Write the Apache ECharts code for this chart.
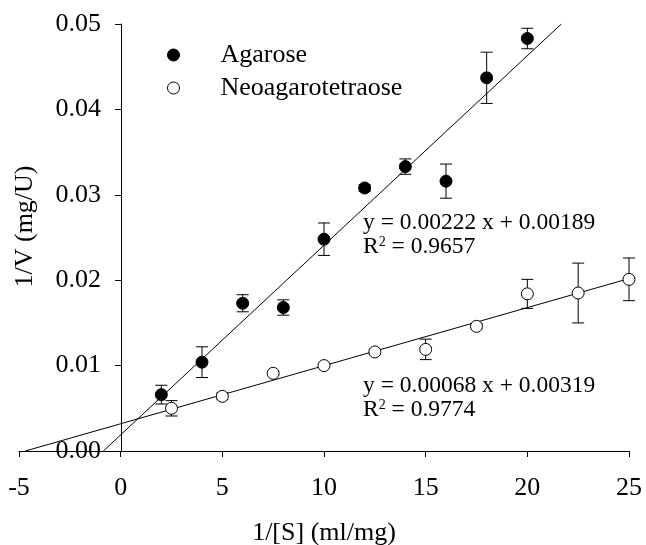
<!DOCTYPE html>
<html>
<head>
<meta charset="utf-8">
<script src="https://cdn.jsdelivr.net/npm/echarts@6/dist/echarts.min.js"></script>
<style>
  html, body { margin: 0; padding: 0; background: #fff; }
  #chart { width: 646px; height: 545px; }
</style>
</head>
<body>
<div id="chart"></div>
<script>
// Agarose (filled circles)
var agaroseX = [2, 4, 6, 8, 10, 12, 14, 16, 18, 20];
var agaroseY = [0.0066, 0.0104, 0.0173, 0.0168, 0.0248, 0.0308, 0.0333, 0.0316, 0.0437, 0.0483];
var agaroseErr = [0.0011, 0.0018, 0.0010, 0.0009, 0.0019, 0.0004, 0.0009, 0.0020, 0.0030, 0.0012];

// Neoagarotetraose (open circles)
var neoX = [2.5, 5, 7.5, 10, 12.5, 15, 17.5, 20, 22.5, 25];
var neoY = [0.0050, 0.0064, 0.0091, 0.0100, 0.0116, 0.0119, 0.0146, 0.0184, 0.0185, 0.0201];
var neoErr = [0.0009, 0.0004, 0.0002, 0.0002, 0.0003, 0.0012, 0.0003, 0.0017, 0.0035, 0.0025];

// linear fits
var fitSlope = [0.00222, 0.00068];
var fitIntercept = [0.00189, 0.00319];
var fitR2 = ['0.9657', '0.9774'];

var xTicks = [-5, 0, 5, 10, 15, 20, 25];
var yTicks = [0.00, 0.01, 0.02, 0.03, 0.04, 0.05];

var font = "'Liberation Serif', 'Times New Roman', serif";

function pairs(xs, ys) {
    return xs.map(function (x, i) { return [x, ys[i]]; });
}
function errData(xs, ys, es) {
    return xs.map(function (x, i) { return [x, ys[i] - es[i], ys[i] + es[i]]; });
}
function errBars(params, api) {
    var x = api.value(0);
    var lo = api.coord([x, api.value(1)]);
    var hi = api.coord([x, api.value(2)]);
    var w = 6;
    var st = { stroke: '#000', lineWidth: 1 };
    return {
        type: 'group',
        children: [
            { type: 'line', shape: { x1: lo[0], y1: lo[1], x2: hi[0], y2: hi[1] }, style: st },
            { type: 'line', shape: { x1: lo[0] - w, y1: lo[1], x2: lo[0] + w, y2: lo[1] }, style: st },
            { type: 'line', shape: { x1: hi[0] - w, y1: hi[1], x2: hi[0] + w, y2: hi[1] }, style: st }
        ]
    };
}
// fit line endpoints from the equation: from the x-intercept up to the plot edge
var yMax = yTicks[yTicks.length - 1];
var xMax = xTicks[xTicks.length - 1];
function fitLine(k) {
    var m = fitSlope[k], b = fitIntercept[k];
    var x0 = -b / m;
    var x1 = Math.min(xMax, (yMax - b) / m);
    return [[x0, 0], [x1, m * x1 + b]];
}
function eqText(k) {
    return 'y = ' + fitSlope[k].toFixed(5) + ' x + ' + fitIntercept[k].toFixed(5) +
        '\nR{sup|2} = ' + fitR2[k];
}

var myChart = echarts.init(document.getElementById('chart'));

var eqRich = { sup: { fontSize: 14, verticalAlign: 'top', lineHeight: 24, fontFamily: font, fill: '#000' } };

var option = {
    backgroundColor: '#fff',
    animation: false,
    textStyle: { fontFamily: font, color: '#000' },
    grid: { left: 19, right: 17, top: 24, bottom: 94, containLabel: false, outerBoundsMode: 'none' },
    legend: {
        orient: 'vertical',
        left: 162,
        top: 37,
        itemWidth: 12,
        itemHeight: 12,
        itemGap: 7,
        textStyle: { fontFamily: font, fontSize: 26, color: '#000', padding: [0, 0, 0, 36] },
        data: [
            { name: 'Agarose', icon: 'circle', itemStyle: { color: '#000', borderColor: '#000', borderWidth: 1 } },
            { name: 'Neoagarotetraose', icon: 'circle', itemStyle: { color: '#fff', borderColor: '#000', borderWidth: 1 } }
        ]
    },
    xAxis: {
        type: 'value',
        min: -5,
        max: 25,
        interval: 5,
        name: '1/[S] (ml/mg)',
        nameLocation: 'middle',
        nameGap: 69,
        nameTextStyle: { fontFamily: font, fontSize: 26, color: '#000' },
        axisLine: { lineStyle: { color: '#000', width: 1 } },
        axisTick: { length: 6, lineStyle: { color: '#000' } },
        axisLabel: { fontFamily: font, fontSize: 26, color: '#000', margin: 24 },
        splitLine: { show: false }
    },
    yAxis: {
        type: 'value',
        min: 0,
        max: 0.05,
        interval: 0.01,
        position: 'left',
        offset: -102,
        name: '1/V (mg/U)',
        nameLocation: 'middle',
        nameGap: 83,
        nameTextStyle: { fontFamily: font, fontSize: 26, color: '#000', padding: [0, 0, 0, 22] },
        axisLine: { onZero: false, lineStyle: { color: '#000', width: 1 } },
        axisTick: { length: 6, lineStyle: { color: '#000' } },
        axisLabel: {
            fontFamily: font, fontSize: 26, color: '#000', margin: 20,
            formatter: function (v) { return v.toFixed(2); }
        },
        splitLine: { show: false }
    },
    graphic: [
        {
            type: 'text', left: 363, top: 211, z: 100,
            style: { text: eqText(0), fontFamily: font, fontSize: 23.5, fill: '#000', lineHeight: 24, rich: eqRich }
        },
        {
            type: 'text', left: 363, top: 374, z: 100,
            style: { text: eqText(1), fontFamily: font, fontSize: 23.5, fill: '#000', lineHeight: 24, rich: eqRich }
        }
    ],
    series: [
        {
            type: 'line', data: fitLine(0), showSymbol: false, silent: true, z: 1,
            lineStyle: { color: '#000', width: 1 }
        },
        {
            type: 'line', data: fitLine(1), showSymbol: false, silent: true, z: 1,
            lineStyle: { color: '#000', width: 1 }
        },
        { type: 'custom', renderItem: errBars, data: errData(agaroseX, agaroseY, agaroseErr), z: 2, silent: true },
        { type: 'custom', renderItem: errBars, data: errData(neoX, neoY, neoErr), z: 2, silent: true },
        {
            name: 'Agarose', type: 'scatter', data: pairs(agaroseX, agaroseY), symbol: 'circle', symbolSize: 12, z: 3,
            itemStyle: { color: '#000', borderColor: '#000', borderWidth: 1, opacity: 1 }
        },
        {
            name: 'Neoagarotetraose', type: 'scatter', data: pairs(neoX, neoY), symbol: 'circle', symbolSize: 12, z: 3,
            itemStyle: { color: '#fff', borderColor: '#000', borderWidth: 1, opacity: 1 }
        }
    ]
};

myChart.setOption(option);
window.addEventListener('resize', function () {
    myChart.resize();
});
</script>
</body>
</html>
